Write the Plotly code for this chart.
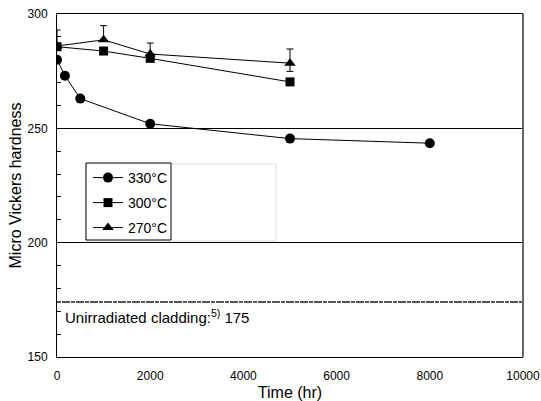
import plotly.graph_objects as go

# Data
t330 = [0, 170, 500, 2000, 5000, 8000]
h330 = [280, 273, 263, 252, 245.5, 243.5]

t300 = [0, 1000, 2000, 5000]
h300 = [285.7, 283.8, 280.6, 270.3]

t270 = [0, 1000, 2000, 5000]
h270 = [286, 288.7, 282.5, 278.5]
e270_plus = [7, 6.2, 4.8, 6.2]
e270_minus = [0, 0, 0, 3.6]

unirradiated = 174
x_ticks = [0, 2000, 4000, 6000, 8000, 10000]
y_ticks = [150, 200, 250, 300]

FONT = "Arial, Liberation Sans, sans-serif"

fig = go.Figure()

fig.add_trace(go.Scatter(
    x=t330, y=h330, mode="lines+markers", name="330°C",
    line=dict(color="black", width=1),
    marker=dict(symbol="circle", size=10, color="black"),
    legend="legend2"))
fig.add_trace(go.Scatter(
    x=t300, y=h300, mode="lines+markers", name="300°C",
    line=dict(color="black", width=1),
    marker=dict(symbol="square", size=9, color="black"),
    legend="legend3"))
fig.add_trace(go.Scatter(
    x=t270, y=h270, mode="lines+markers", name="270°C",
    line=dict(color="black", width=1),
    marker=dict(symbol="triangle-up", size=10, color="black"),
    error_y=dict(type="data", symmetric=False, array=e270_plus,
                 arrayminus=e270_minus, color="black", thickness=1, width=3.5),
    legend="legend4"))

L, R, T, B = 57, 18, 14, 44
W, H = 541, 401
pw, ph = W - L - R, H - T - B

def px(xp):
    return (xp - L) / pw

def py(yp):
    return (H - B - yp) / ph

shapes = [
    # faint gray box behind legend
    dict(type="rect", xref="paper", yref="paper", x0=px(86), x1=px(276),
         y0=py(241), y1=py(164), line=dict(color="#dcdcdc", width=1),
         fillcolor="white", layer="above"),
    # legend box
    dict(type="rect", xref="paper", yref="paper", x0=px(86), x1=px(171),
         y0=py(240), y1=py(163), line=dict(color="black", width=1),
         fillcolor="white", layer="above"),
    # unirradiated level
    dict(type="line", xref="paper", yref="y", x0=0, x1=1,
         y0=unirradiated, y1=unirradiated,
         line=dict(color="#222", width=1.5, dash="4px,1px,8px,1px")),
    # right border (gray)
    dict(type="line", xref="paper", yref="paper", x0=1, x1=1, y0=0, y1=1,
         line=dict(color="#666", width=2)),
]

leg_common = dict(bgcolor="rgba(0,0,0,0)", borderwidth=0,
                  font=dict(family=FONT, size=14, color="black"),
                  xanchor="left", yanchor="middle", x=px(88))

fig.update_layout(
    width=W, height=H,
    margin=dict(l=L, r=R, t=T, b=B),
    paper_bgcolor="white", plot_bgcolor="white",
    font=dict(family=FONT, size=12, color="black"),
    showlegend=True,
    legend2=dict(**leg_common, y=py(178)),
    legend3=dict(**leg_common, y=py(203)),
    legend4=dict(**leg_common, y=py(228)),
    shapes=shapes,
    annotations=[dict(
        xref="paper", yref="y", x=px(63), y=167.5, xanchor="left", yanchor="middle",
        text="Unirradiated cladding:<sup>5)</sup> 175", showarrow=False,
        font=dict(family=FONT, size=15, color="black"))],
)

fig.update_xaxes(
    range=[0, 10000], tickvals=x_ticks, ticktext=[str(v) for v in x_ticks],
    showgrid=False, zeroline=False, showline=True, linecolor="black", linewidth=1,
    mirror=True, ticks="", ticklabelstandoff=8, automargin=False,
    tickfont=dict(family=FONT, size=12),
    title=dict(text="Time (hr)", font=dict(family=FONT, size=16), standoff=6),
)
fig.update_yaxes(
    range=[150, 300], tickvals=y_ticks, ticktext=[str(v) for v in y_ticks],
    showgrid=True, gridcolor="black", gridwidth=1, zeroline=False,
    showline=True, linecolor="black", linewidth=1, automargin=False,
    ticks="inside", ticklen=4, tickcolor="black",
    minor=dict(dtick=10, tick0=150, ticks="inside", ticklen=4, tickcolor="black", showgrid=False),
    ticklabelstandoff=6,
    tickfont=dict(family=FONT, size=12),
    title=dict(text="Micro Vickers hardness", font=dict(family=FONT, size=16), standoff=1),
)

fig.write_html("out.html")
